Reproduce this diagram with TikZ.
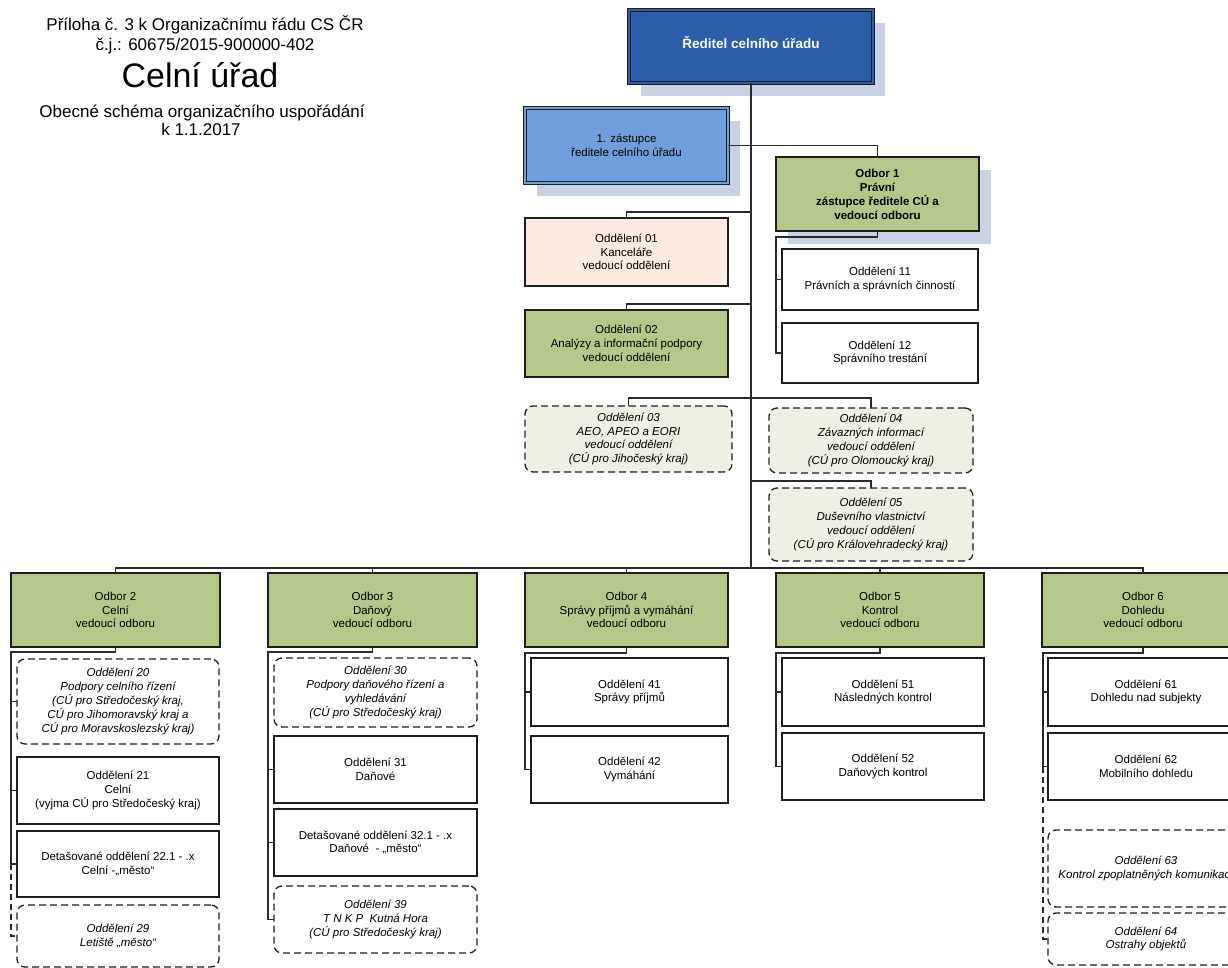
\documentclass[tikz,border=0pt]{standalone}
\usepackage{fontspec}
\setmainfont{Liberation Sans}
\usetikzlibrary{backgrounds,calc}
\definecolor{dirblue}{HTML}{2B5DA8}
\definecolor{zastblue}{HTML}{6E9EDB}
\definecolor{odgreen}{HTML}{B4C88A}
\definecolor{peach}{HTML}{FCEBE0}
\definecolor{palegreen}{HTML}{EEF0E3}
\definecolor{shadowc}{HTML}{C8D2E2}
\definecolor{linec}{HTML}{2A2A2A}
\definecolor{edgec}{HTML}{1E1E1E}
\tikzset{
  box/.style={draw=edgec, line width=1.4pt, inner sep=2pt, outer sep=0pt, align=center,
    font=\fontsize{11.5}{13.8}\selectfont, text=black},
  wbox/.style={box, fill=white},
  gbox/.style={box, fill=odgreen, line width=2pt},
  dbox/.style={box, fill=white, dash pattern=on 7pt off 4pt, rounded corners=8pt, line width=1.3pt,
    font=\fontsize{11.5}{13.8}\selectfont\itshape},
  pbox/.style={dbox, fill=palegreen},
  dblbox/.style={box, double distance=1.6pt, line width=1pt},
  conn/.style={draw=linec, line width=1.2pt},
  dconn/.style={conn, dash pattern=on 6pt off 4pt},
  ttl/.style={font=\fontsize{17}{20}\selectfont, inner sep=0pt, anchor=base},
}
\begin{document}
\begin{tikzpicture}[x=1pt,y=-1pt]
\useasboundingbox (0,0) rectangle (1228,968);
\clip (0,0) rectangle (1228,968);

% title
\node[ttl] (t1) at (205,30.5) {Příloha č. 3 k Organizačnímu řádu CS ČR};
\node[ttl] (t2) at (205,50.5) {č.j.: 60675/2015-900000-402};
\node[ttl, font=\fontsize{34}{40}\selectfont] (t3) at (200,88) {Celní úřad};
\node[ttl] (t4) at (202,118) {Obecné schéma organizačního uspořádání};
\node[ttl] (t5) at (201,136) {k 1.1.2017};

% upper part
\node[dblbox, fill=dirblue, double=dirblue, minimum width=244, minimum height=73, text depth=9pt,
  font=\fontsize{13.5}{16}\selectfont\bfseries, text=white] (dir) at (751,46.5) {Ředitel celního úřadu};
\node[dblbox, fill=zastblue, double=zastblue, minimum width=203, minimum height=75] (z1) at (626.5,145.5)
  {1. zástupce\\ředitele celního úřadu};
\node[gbox, minimum width=203, minimum height=74, font=\fontsize{11.5}{14}\selectfont\bfseries] (o1) at (877.5,194)
  {Odbor 1\\Právní\\zástupce ředitele CÚ a\\vedoucí odboru};
\node[box, fill=peach, minimum width=203, minimum height=68] (d01) at (626.5,252)
  {Oddělení 01\\Kanceláře\\vedoucí oddělení};
\node[gbox, minimum width=203, minimum height=67] (d02) at (626.5,343.5)
  {Oddělení 02\\Analýzy a informační podpory\\vedoucí oddělení};
\node[wbox, minimum width=196, minimum height=61] (d11) at (880,279.5)
  {Oddělení 11\\Právních a správních činností};
\node[wbox, minimum width=196, minimum height=60] (d12) at (880,353)
  {Oddělení 12\\Správního trestání};
\node[pbox, minimum width=207, minimum height=66] (d03) at (628.5,439)
  {Oddělení 03\\AEO, APEO a EORI\\vedoucí oddělení\\(CÚ pro Jihočeský kraj)};
\node[pbox, minimum width=204, minimum height=65] (d04) at (871,440.5)
  {Oddělení 04\\Závazných informací\\vedoucí oddělení\\(CÚ pro Olomoucký kraj)};
\node[pbox, minimum width=204, minimum height=73] (d05) at (871,524.5)
  {Oddělení 05\\Duševního vlastnictví\\vedoucí oddělení\\(CÚ pro Královehradecký kraj)};

% odbory
\node[gbox, minimum width=209, minimum height=74] (o2) at (115.5,610) {Odbor 2\\Celní\\vedoucí odboru};
\node[gbox, minimum width=209, minimum height=74] (o3) at (372.5,610) {Odbor 3\\Daňový\\vedoucí odboru};
\node[gbox, minimum width=203, minimum height=74] (o4) at (626.5,610) {Odbor 4\\Správy příjmů a vymáhání\\vedoucí odboru};
\node[gbox, minimum width=208, minimum height=74] (o5) at (880,610) {Odbor 5\\Kontrol\\vedoucí odboru};
\node[gbox, minimum width=202, minimum height=74] (o6) at (1143,610) {Odbor 6\\Dohledu\\vedoucí odboru};

% odbor 2
\node[dbox, minimum width=202, minimum height=85] (d20) at (118,701.5)
  {Oddělení 20\\Podpory celního řízení\\(CÚ pro Středočeský kraj,\\CÚ pro Jihomoravský kraj a\\CÚ pro Moravskoslezský kraj)};
\node[wbox, minimum width=202, minimum height=67] (d21) at (118,790.5)
  {Oddělení 21\\Celní\\(vyjma CÚ pro Středočeský kraj)};
\node[wbox, minimum width=202, minimum height=66] (d22) at (118,864)
  {Detašované oddělení 22.1 - .x\\Celní -„město“};
\node[dbox, minimum width=202, minimum height=62] (d29) at (118,936)
  {Oddělení 29\\Letiště „město“};

% odbor 3
\node[dbox, minimum width=203, minimum height=69] (d30) at (375.5,692.5)
  {Oddělení 30\\Podpory daňového řízení a\\vyhledávání\\(CÚ pro Středočeský kraj)};
\node[wbox, minimum width=203, minimum height=67] (d31) at (375.5,769.5)
  {Oddělení 31\\Daňové};
\node[wbox, minimum width=203, minimum height=67] (d32) at (375.5,842.5)
  {Detašované oddělení 32.1 - .x\\Daňové~~- „město“};
\node[dbox, minimum width=203, minimum height=67] (d39) at (375.5,919.5)
  {Oddělení 39\\T N K P~~Kutná Hora\\(CÚ pro Středočeský kraj)};

% odbor 4
\node[wbox, minimum width=197, minimum height=68] (d41) at (629.5,692) {Oddělení 41\\Správy příjmů};
\node[wbox, minimum width=197, minimum height=67] (d42) at (629.5,769.5) {Oddělení 42\\Vymáhání};

% odbor 5
\node[wbox, minimum width=202, minimum height=68] (d51) at (883,692) {Oddělení 51\\Následných kontrol};
\node[wbox, minimum width=202, minimum height=67] (d52) at (883,766.5) {Oddělení 52\\Daňových kontrol};

% odbor 6
\node[wbox, minimum width=196, minimum height=68] (d61) at (1146,692) {Oddělení 61\\Dohledu nad subjekty};
\node[wbox, minimum width=196, minimum height=67] (d62) at (1146,766.5) {Oddělení 62\\Mobilního dohledu};
\node[dbox, minimum width=196, minimum height=77] (d63) at (1146,868.5) {Oddělení 63\\Kontrol zpoplatněných komunikací};
\node[dbox, minimum width=196, minimum height=52] (d64) at (1146,939) {Oddělení 64\\Ostrahy objektů};

% connectors upper
\coordinate (busY) at (0,568);
\coordinate (j01) at (dir.south |- 0,212);
\coordinate (j02) at (dir.south |- 0,304);
\coordinate (j05) at (dir.south |- 0,481);
\coordinate (v1) at (776,237);
\draw[conn] (dir.south) -- (dir.south |- busY);
\draw[conn] (z1.east) -| (o1.north);
\draw[conn] (d01.north) |- (j01);
\draw[conn] (d02.north) |- (j02);
\draw[conn] (o1.south) |- (v1) -- (v1 |- d12.west) -- (d12.west);
\draw[conn] (v1 |- d11.west) -- (d11.west);
\draw[conn] (d03.north) -- ++(0,-8) -| (d04.north);
\draw[conn] (j05) -| (d05.north);

% bus
\draw[conn] (o2.north) -- ++(0,-5) -| (o6.north);
\foreach \n in {o3,o4,o5} \draw[conn] (\n.north) -- ++(0,-5);

% odbor 2 children
\coordinate (v2) at (11,652);
\draw[conn] (o2.south) |- (v2) -- (v2 |- d22.west) -- (d22.west);
\draw[conn] (v2 |- d20.west) -- (d20.west);
\draw[conn] (v2 |- d21.west) -- (d21.west);
\draw[dconn] (v2 |- d22.west) -- (v2 |- d29.west) -- (d29.west);

% odbor 3 children
\coordinate (v3) at (268,652);
\draw[conn] (o3.south) |- (v3) -- (v3 |- d39.west) -- (d39.west);
\draw[conn] (v3 |- d31.west) -- (d31.west);
\draw[conn] (v3 |- d32.west) -- (d32.west);

% odbor 4 children
\coordinate (v4) at (525,653);
\draw[conn] (o4.south) |- (v4) -- (v4 |- d42.west) -- (d42.west);
\draw[conn] (v4 |- d41.west) -- (d41.west);

% odbor 5 children
\coordinate (v5) at (776,653);
\draw[conn] (o5.south) |- (v5) -- (v5 |- d52.west) -- (d52.west);
\draw[conn] (v5 |- d51.west) -- (d51.west);

% odbor 6 children
\coordinate (v6) at (1043,653);
\draw[conn] (o6.south) |- (v6) -- (v6 |- d62.west) -- (d62.west);
\draw[conn] (v6 |- d61.west) -- (d61.west);
\draw[dconn] (v6 |- d62.west) -- (v6 |- d64.west) -- (d64.west);

% background and shadows
\begin{scope}[on background layer]
\fill[white] (0,0) rectangle (1228,968);
\foreach \n in {dir,z1,o1}
  \fill[shadowc] ([shift={(12,13)}]\n.north west) rectangle ([shift={(12,13)}]\n.south east);
\end{scope}
\end{tikzpicture}
\end{document}
